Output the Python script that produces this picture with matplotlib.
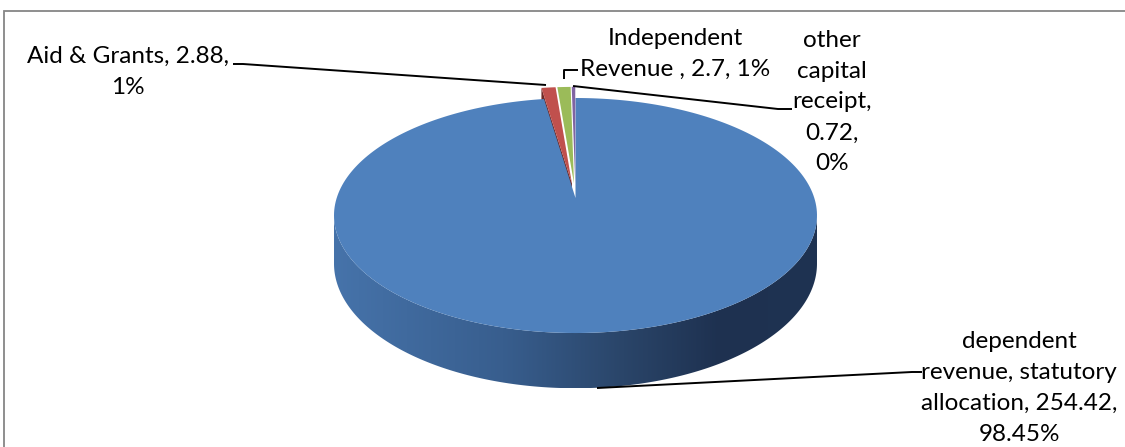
import numpy as np
import matplotlib
matplotlib.use("Agg")
import matplotlib.pyplot as plt
import matplotlib.transforms as mtransforms
from matplotlib.path import Path
from matplotlib.patches import Polygon, Rectangle
from matplotlib.colors import LinearSegmentedColormap

# ---------------- data ----------------
categories = ["dependent revenue, statutory allocation", "Aid & Grants",
              "Independent Revenue ", "other capital receipt"]
values = [254.42, 2.88, 2.7, 0.72]
percent_labels = ["98.45%", "1%", "1%", "0%"]
label_texts = ["dependent\nrevenue, statutory\nallocation, 254.42,\n98.45%",
               "Aid & Grants, 2.88,\n1%",
               "Independent\nRevenue , 2.7, 1%",
               "other\ncapital\nreceipt,\n0.72,\n0%"]
colors = ["#4F81BD", "#C0504D", "#9BBB59", "#8064A2"]
explode = [0, 0.13, 0.13, 0.13]

# ---------------- geometry of the 3D view (pixels) ----------------
W, H = 1125, 447
CX, CY = 575.5, 198.0      # projected pie centre
R = 238.8                  # horizontal radius scale
RC = 114.9                 # vertical radius scale
K = 0.149                  # perspective strength
DEPTH = 47.0               # thickness of the pie


class Persp(mtransforms.Transform):
    input_dims = 2
    output_dims = 2
    is_separable = False
    has_inverse = False

    def __init__(self, z=0.0):
        super().__init__()
        self.z = z

    def transform_non_affine(self, values):
        v = np.asarray(values, float).reshape(-1, 2)
        x, y = v[:, 0], v[:, 1]
        w = 1 + K * y
        return np.column_stack([CX + R * x / w, CY - RC * y / w + self.z / w])

    def transform_path_non_affine(self, path):
        s = 2000.0
        polys = path.to_polygons(transform=mtransforms.Affine2D().scale(s))
        paths = [Path(self.transform_non_affine(p / s), closed=True) for p in polys]
        return Path.make_compound_path(*paths)


fig = plt.figure(figsize=(W / 100, H / 100), dpi=100)
ax = fig.add_axes([0, 0, 1, 1])

wedges, _ = ax.pie(values, colors=colors, explode=explode, startangle=90,
                   counterclock=False, radius=1.0,
                   wedgeprops=dict(linewidth=0))

# top faces with perspective
for i, w in enumerate(wedges):
    w.set_transform(Persp(0) + ax.transData)
    w.set_zorder(3 if i == 0 else 5)

# ---- blue side wall with horizontal gradient ----
bw = wedges[0]
cxw, cyw = bw.center
r = bw.r
a0 = np.pi + np.arcsin(K)
a1 = 2 * np.pi - np.arcsin(K)
t = np.linspace(a0, a1, 300)
arc = np.column_stack([cxw + r * np.cos(t), cyw + r * np.sin(t)])
top_edge = Persp(0).transform(arc)
bot_edge = Persp(DEPTH).transform(arc)
side_poly = np.vstack([top_edge, bot_edge[::-1]])
side_patch = Polygon(side_poly, closed=True, facecolor="none", edgecolor="none",
                     transform=ax.transData)
ax.add_patch(side_patch)
side_cmap = LinearSegmentedColormap.from_list(
    "side", [(0.0, "#4673AA"), (0.35, "#385E8E"), (0.6, "#2A4569"),
             (0.8, "#1E3150"), (1.0, "#1F3352")])
grad = np.linspace(0, 1, 256).reshape(1, -1)
xmin, xmax = side_poly[:, 0].min(), side_poly[:, 0].max()
ymin, ymax = side_poly[:, 1].min(), side_poly[:, 1].max()
im = ax.imshow(grad, cmap=side_cmap, aspect="auto",
               extent=(xmin, xmax, ymax, ymin), zorder=1, interpolation="bilinear")
im.set_clip_path(side_patch)

# ---- visible radial face of the exploded red slice ----
rw = wedges[1]
th = np.deg2rad(rw.theta2)
pts = np.array([[rw.center[0], rw.center[1]],
                [rw.center[0] + rw.r * np.cos(th), rw.center[1] + rw.r * np.sin(th)]])
ptop = Persp(0).transform(pts)
pbot = Persp(DEPTH).transform(pts)
face = Polygon(np.vstack([ptop, pbot[::-1]]), closed=True, facecolor="#6E2A28",
               edgecolor="none", zorder=2)
ax.add_patch(face)

ax.set_aspect("auto")
ax.set_xlim(0, W)
ax.set_ylim(H, 0)
ax.axis("off")

# ---------------- labels ----------------
font = dict(family=["Lato", "DejaVu Sans"], fontsize=17.5, color="black",
            ha="center", va="center", linespacing=1.58, zorder=10)
ax.text(1019, 388, label_texts[0], **font)
ax.text(128, 72, label_texts[1], **font)
ax.text(675, 54, label_texts[2], **font)
ax.text(832, 102, label_texts[3], **font)

lk = dict(color="black", lw=1.4, zorder=9, solid_capstyle="butt")
ax.plot([597, 912, 922], [388, 372, 372], **lk)
ax.plot([233, 243, 546], [64, 64, 85], **lk)
ax.plot([578, 564, 564], [70, 70, 79], **lk)
ax.plot([573, 778, 792], [86, 109, 109], **lk)

# chart border
fig.patches.append(Rectangle((3.5 / W, -0.1), 2, 1 - 10.5 / H + 0.1,
                             transform=fig.transFigure, fill=False,
                             edgecolor="#868686", lw=1.3))

fig.savefig("out.png", dpi=100)
